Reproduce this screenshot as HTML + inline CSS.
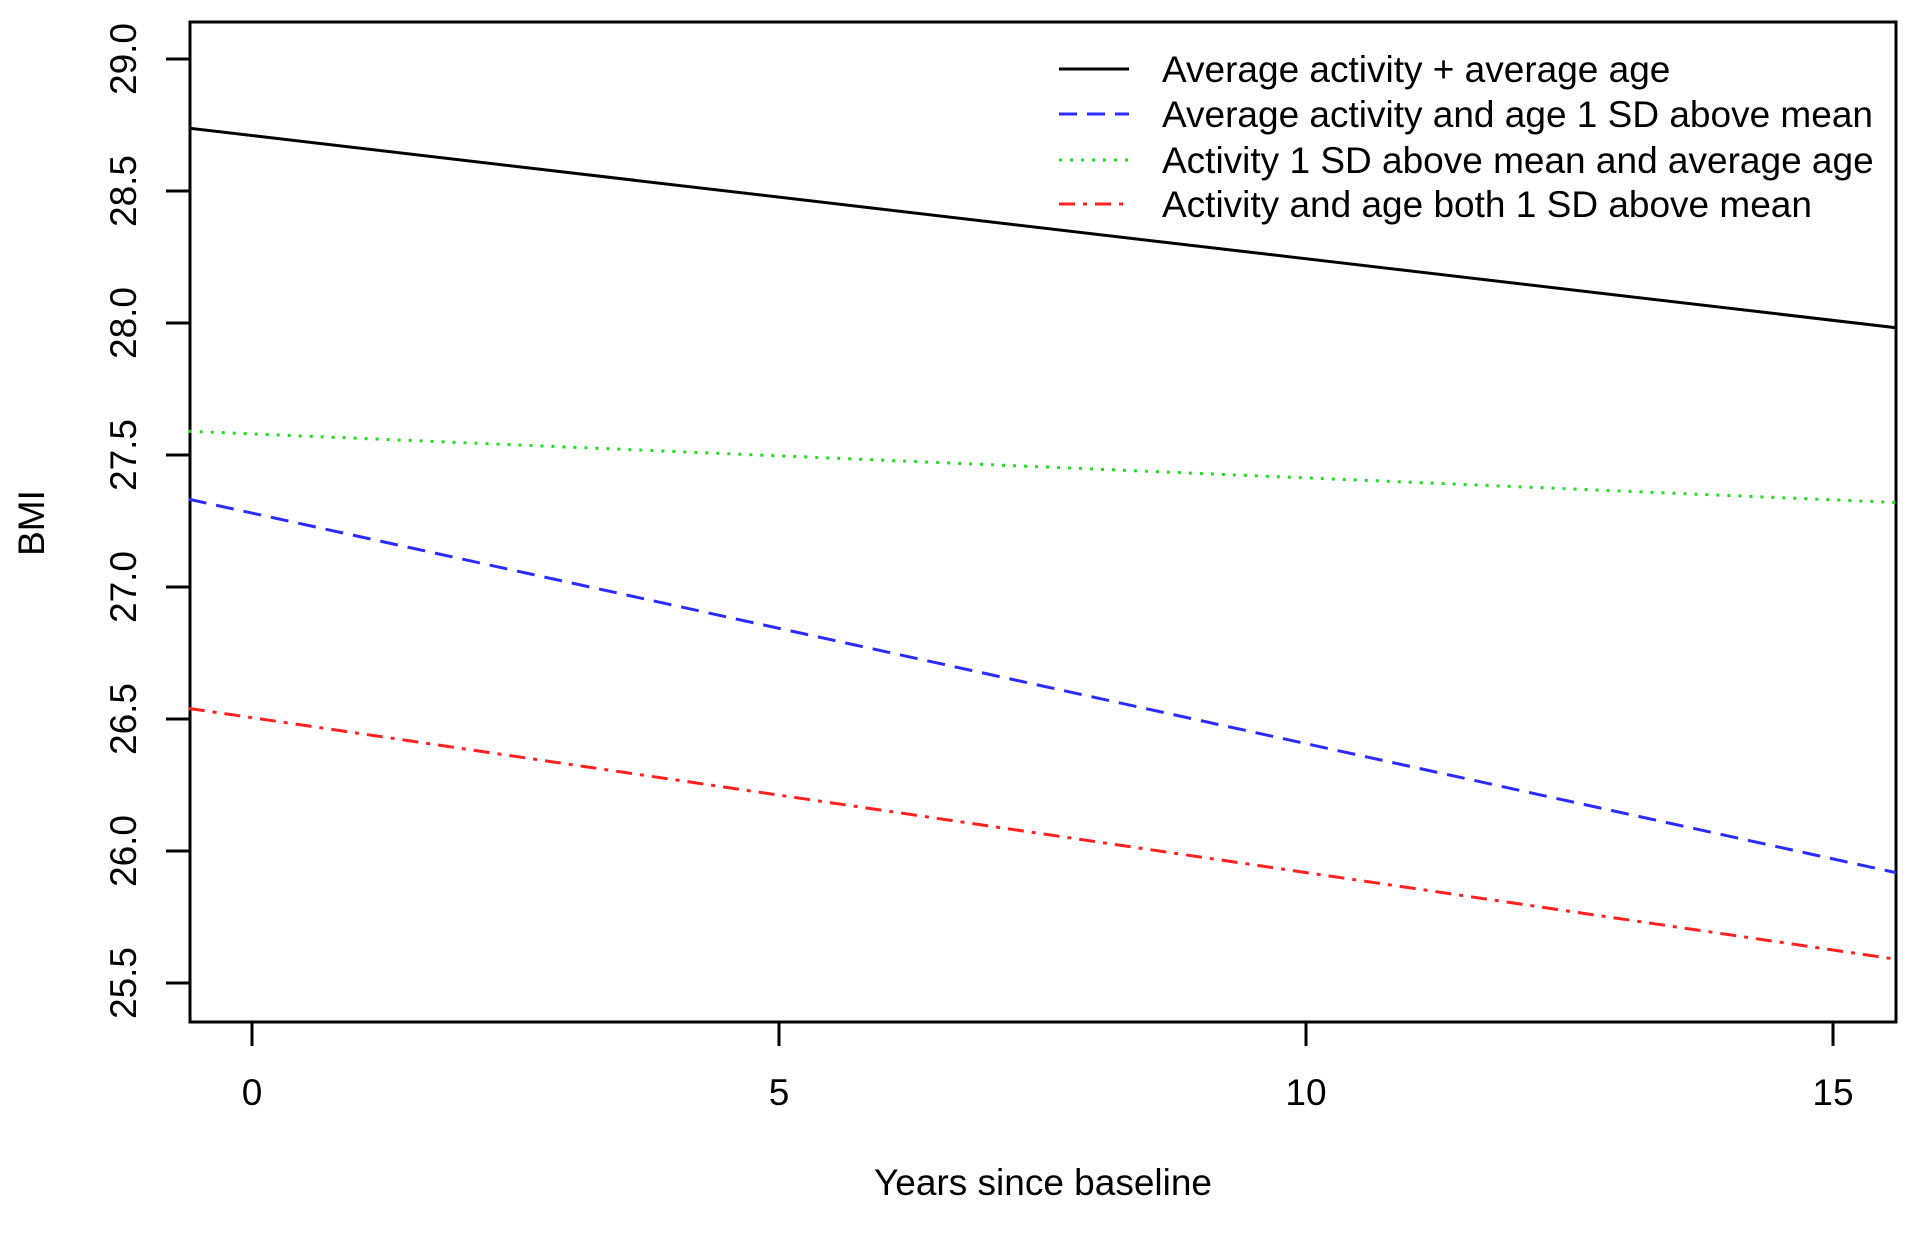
<!DOCTYPE html>
<html><head><meta charset="utf-8"><style>
body{margin:0;background:#fff}
svg text{font-family:"Liberation Sans",sans-serif;fill:#000}
</style></head><body>
<svg id="chart" width="1920" height="1228" xmlns="http://www.w3.org/2000/svg">
<rect x="190" y="22" width="1706" height="1000" fill="none" stroke="#000" stroke-width="3"/>
<g id="axes"></g>
<g id="series"></g>
<g id="legend"></g>
<text x="1043" y="1195" font-size="37" text-anchor="middle">Years since baseline</text>
<text transform="translate(44,523) rotate(-90)" font-size="37" text-anchor="middle">BMI</text>
</svg>
<script>
const xTicks=[0,5,10,15];
const yTicks=[25.5,26.0,26.5,27.0,27.5,28.0,28.5,29.0];
const yTickLabels=["25.5","26.0","26.5","27.0","27.5","28.0","28.5","29.0"];
const seriesNames=["Average activity + average age","Average activity and age 1 SD above mean","Activity 1 SD above mean and average age","Activity and age both 1 SD above mean"];
const seriesX=[0,15];
const blackVals=[28.71,28.01];
const blueVals=[27.28,25.97];
const greenVals=[27.58,27.33];
const redVals=[26.505,25.625];
const xDomain=[-0.6,15.6];

const ns="http://www.w3.org/2000/svg";
const X=v=>252+(v-0)*(1833-252)/15;
const Y=v=>59+(29-v)*264;
function mk(t,a,p){const e=document.createElementNS(ns,t);for(const k in a)e.setAttribute(k,a[k]);p.appendChild(e);return e;}
const axes=document.getElementById('axes');
xTicks.forEach(t=>{
 const l=mk('line',{x1:X(t),x2:X(t),y1:1022,y2:1046,stroke:'#000','stroke-width':3},axes);
 
 
 const tx=mk('text',{x:X(t),y:1105,'font-size':37,'text-anchor':'middle'},axes);tx.textContent=t;
 
 
});
yTicks.forEach((t,i)=>{
 const l=mk('line',{x1:166,x2:190,y1:Y(t),y2:Y(t),stroke:'#000','stroke-width':3},axes);
 
 
 const tx=mk('text',{'font-size':37,'text-anchor':'middle',transform:`translate(136,${Y(t)}) rotate(-90)`},axes);tx.textContent=yTickLabels[i];
 
 
});
const styles=[{c:'#000',d:''},{c:'#2b2bff',d:'18,10'},{c:'#22dd22',d:'3,8'},{c:'#ff2020',d:'16,8,4,8'}];
const allVals=[blackVals,blueVals,greenVals,redVals];
const names=['line-average','line-age-1sd','line-activity-1sd','line-both-1sd'];
const sg=document.getElementById('series');
allVals.forEach((vals,i)=>{
 const slope=(vals[1]-vals[0])/(seriesX[1]-seriesX[0]);
 const f=x=>vals[0]+slope*(x-seriesX[0]);
 const l=mk('line',{x1:X(xDomain[0]),y1:Y(f(xDomain[0])),x2:X(xDomain[1]),y2:Y(f(xDomain[1])),stroke:styles[i].c,'stroke-width':3,'stroke-dasharray':styles[i].d},sg);
 
 
});
const lg=document.getElementById('legend');
const ly=[69,114,160,204];
seriesNames.forEach((n,i)=>{
 const l=mk('line',{x1:1059,x2:1129,y1:ly[i],y2:ly[i],stroke:styles[i].c,'stroke-width':3,'stroke-dasharray':styles[i].d},lg);
 
 
 const t=mk('text',{x:1162,y:ly[i]+13,'font-size':37},lg);t.textContent=n;
 
 
});
</script>
</body></html>
